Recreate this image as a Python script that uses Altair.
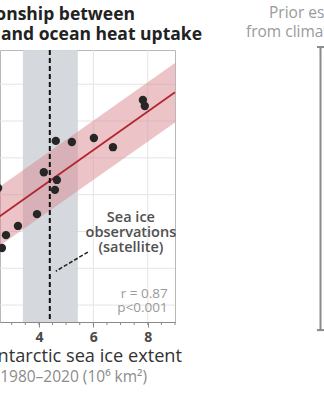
import altair as alt
import pandas as pd

# ---- data ----
ice_extent = [7.82, 7.89, 4.62, 5.21, 6.02, 6.72, 4.18, 4.66, 4.59, 3.93, 3.23, 2.79, 2.64, 2.50]
heat_uptake = [6.57, 6.41, 5.46, 5.43, 5.54, 5.29, 4.61, 4.40, 4.13, 3.47, 3.15, 2.90, 2.55, 4.18]

fit_x = [2.40, 9.00]
fit_y = [3.33, 6.78]
fit_lo = [2.53, 5.96]
fit_hi = [4.13, 7.58]

obs_center = 4.40
obs_lo, obs_hi = 3.41, 5.43

prior_lo, prior_hi = 0.32, 8.01

x_ticks = [4, 6, 8]
minor_ticks = [2.5 + 0.5 * i for i in range(14)]
y_grid = [1, 2, 3, 4, 5, 6, 7]

XD = [2.57, 9.0]
YD = [0.54, 7.93]
FONT = "Open Sans"

xs = alt.Scale(domain=XD, nice=False, zero=False)
ys = alt.Scale(domain=YD, nice=False, zero=False)

pts = pd.DataFrame({"x": ice_extent, "y": heat_uptake})
fit = pd.DataFrame({"x": fit_x, "y": fit_y, "lo": fit_lo, "hi": fit_hi})

grid_x = alt.Chart(pd.DataFrame({"x": x_ticks})).mark_rule(color="#e4e4e4", strokeWidth=1).encode(
    x=alt.X("x:Q", scale=xs, axis=alt.Axis(values=x_ticks, grid=False, title=None,
                                             labelFont=FONT, labelFontSize=14, labelFontWeight="bold",
                                             labelColor="#4a4a4a", domainColor="#8a8a8a",
                                             tickColor="#8a8a8a", tickSize=5, labelPadding=3)),
    y=alt.value(0), y2=alt.value(272))

grid_y = alt.Chart(pd.DataFrame({"y": y_grid})).mark_rule(color="#e4e4e4", strokeWidth=1).encode(
    y=alt.Y("y:Q", scale=ys, axis=None),
    x=alt.value(-5), x2=alt.value(175))

obs_band = alt.Chart(pd.DataFrame({"a": [obs_lo], "b": [obs_hi]})).mark_rect(color="#d3d6da", opacity=0.95).encode(
    x=alt.X("a:Q", scale=xs), x2="b:Q", y=alt.value(0), y2=alt.value(272))

band = alt.Chart(fit).mark_area(color="#d98a92", opacity=0.5).encode(
    x=alt.X("x:Q", scale=xs), y=alt.Y("lo:Q", scale=ys), y2="hi:Q")

line = alt.Chart(fit).mark_line(color="#b3262f", strokeWidth=1.8).encode(
    x=alt.X("x:Q", scale=xs), y=alt.Y("y:Q", scale=ys))

dots = alt.Chart(pts).mark_circle(color="#262626", opacity=1, size=70).encode(
    x=alt.X("x:Q", scale=xs), y=alt.Y("y:Q", scale=ys))

obs_line = alt.Chart(pd.DataFrame({"x": [obs_center]})).mark_rule(
    color="#111111", strokeWidth=2, strokeDash=[5, 3]).encode(
    x=alt.X("x:Q", scale=xs), y=alt.value(0), y2=alt.value(272))

minor = alt.Chart(pd.DataFrame({"x": minor_ticks})).mark_rule(color="#8a8a8a", strokeWidth=1).encode(
    x=alt.X("x:Q", scale=xs), y=alt.value(272), y2=alt.value(275))

leader = alt.Chart(pd.DataFrame({"x": [5.80], "y": [2.44], "x2": [4.62], "y2": [1.92]})).mark_rule(
    color="#222222", strokeWidth=1.6, strokeDash=[4, 2]).encode(
    x=alt.X("x:Q", scale=xs), y=alt.Y("y:Q", scale=ys), x2="x2:Q", y2="y2:Q")

ann = alt.Chart(pd.DataFrame({"x": [7.38] * 3, "y": [3.37, 2.95, 2.54],
                              "t": ["Sea ice", "observations", "(satellite)"]})).mark_text(
    font=FONT, fontSize=14.5, fontWeight=600, color="#505050", align="center", baseline="middle").encode(
    x=alt.X("x:Q", scale=xs), y=alt.Y("y:Q", scale=ys), text="t:N")

stats = alt.Chart(pd.DataFrame({"x": [8.73] * 2, "y": [1.30, 0.92], "t": ["r = 0.87", "p<0.001"]})).mark_text(
    font=FONT, fontSize=13.5, color="#9a9a9a", align="right", baseline="middle").encode(
    x=alt.X("x:Q", scale=xs), y=alt.Y("y:Q", scale=ys), text="t:N")

# titles (pixel placed, partly cropped like the reference)
titles = alt.Chart(pd.DataFrame({
    "px": [135, 202], "py": [-35, -15],
    "t": ["Relationship between", "Antarctic sea ice and ocean heat uptake"]})).mark_text(
    font=FONT, fontSize=17.5, fontWeight="bold", color="#222222", align="right", baseline="middle").encode(
    x=alt.X("px:Q", scale=None), y=alt.Y("py:Q", scale=None), text="t:N")

xtitle = alt.Chart(pd.DataFrame({"px": [182], "py": [307], "t": ["Antarctic sea ice extent"]})).mark_text(
    font=FONT, fontSize=18.2, color="#333333", align="right", baseline="middle").encode(
    x=alt.X("px:Q", scale=None), y=alt.Y("py:Q", scale=None), text="t:N")

xsub = alt.Chart(pd.DataFrame({"px": [147], "py": [327], "t": ["1980–2020 (10⁶ km²)"]})).mark_text(
    font=FONT, fontSize=15.5, color="#8c8c8c", align="right", baseline="middle").encode(
    x=alt.X("px:Q", scale=None), y=alt.Y("py:Q", scale=None), text="t:N")

prior_txt = alt.Chart(pd.DataFrame({"px": [269, 246], "py": [-37, -18],
                                    "t": ["Prior estimate", "from climate models"]})).mark_text(
    font=FONT, fontSize=15.5, color="#9a9a9a", align="left", baseline="middle").encode(
    x=alt.X("px:Q", scale=None), y=alt.Y("py:Q", scale=None), text="t:N")

prior_bar = alt.Chart(pd.DataFrame({"lo": [prior_lo], "hi": [prior_hi]})).mark_rule(
    color="#8a8a8a", strokeWidth=2).encode(
    x=alt.value(320.5), y=alt.Y("lo:Q", scale=ys), y2="hi:Q")

prior_caps = alt.Chart(pd.DataFrame({"y": [prior_lo, prior_hi]})).mark_rule(
    color="#8a8a8a", strokeWidth=2).encode(
    x=alt.value(317), x2=alt.value(324), y=alt.Y("y:Q", scale=ys))

chart = alt.layer(
    grid_y, grid_x, obs_band, band, line, dots, obs_line, minor, leader, ann, stats,
    titles, xtitle, xsub, prior_txt, prior_bar, prior_caps
).resolve_scale(x="shared", y="shared").properties(
    width=175, height=272,
    autosize=alt.AutoSizeParams(type="none"),
    padding={"left": 0, "top": 50, "right": 149, "bottom": 78},
).configure_view(stroke="#b8b8b8", strokeWidth=1)

chart.save("out.html", embed_options={"renderer": "svg", "actions": False})
